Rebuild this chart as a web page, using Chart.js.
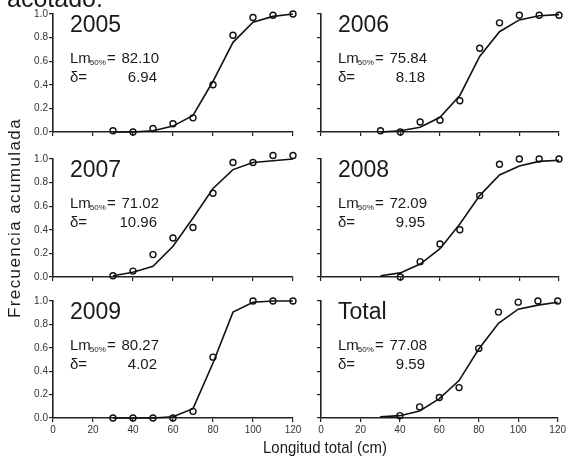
<!DOCTYPE html>
<html>
<head>
<meta charset="utf-8">
<script src="https://cdn.jsdelivr.net/npm/chart.js@4"></script>
<style>
  html, body { margin: 0; padding: 0; background: #fff; }
  #wrap { position: relative; width: 568px; height: 462px; overflow: hidden; background: #fff; }
  #wrap canvas { position: absolute; left: 0; top: 0; }
</style>
</head>
<body>
<div id="wrap"></div>
<script>
// Size classes (cm) and cumulative frequency per year
const lengths = [30, 40, 50, 60, 70, 80, 90, 100, 110, 120];
const xTicks = [0, 20, 40, 60, 80, 100, 120];
const yTicks = [0, 0.2, 0.4, 0.6, 0.8, 1.0];

const panelNames = ['2005', '2006', '2007', '2008', '2009', 'Total'];
const lm50 = [82.10, 75.84, 71.02, 72.09, 80.27, 77.08];
const deltas = [6.94, 8.18, 10.96, 9.95, 4.02, 9.59];

// observed cumulative frequency (null = no sample)
const obs2005 = [0.01, 0.00, 0.03, 0.07, 0.12, 0.40, 0.82, 0.97, 0.99, 1.00];
const obs2006 = [0.01, 0.00, 0.085, 0.10, 0.265, 0.71, 0.925, 0.99, 0.99, 0.99];
const obs2007 = [0.01, 0.05, 0.19, 0.33, 0.42, 0.71, 0.97, 0.97, 1.03, 1.03];
const obs2008 = [null, 0.00, 0.13, 0.28, 0.40, 0.69, 0.955, 1.00, 1.00, 1.00];
const obs2009 = [0.00, 0.00, 0.00, 0.00, 0.057, 0.52, null, 1.00, 1.00, 1.00];
const obsTotal = [null, 0.02, 0.095, 0.175, 0.26, 0.595, 0.905, 0.99, 1.00, 1.00];

// fitted maturity ogive
const fit2005 = [0.00, 0.00, 0.01, 0.05, 0.14, 0.43, 0.76, 0.93, 0.98, 1.00];
const fit2006 = [0.00, 0.01, 0.04, 0.125, 0.31, 0.64, 0.85, 0.95, 0.985, 0.995];
const fit2007 = [0.01, 0.04, 0.09, 0.26, 0.50, 0.75, 0.91, 0.97, 0.985, 1.00];
const fit2008 = [0.01, 0.035, 0.11, 0.24, 0.45, 0.69, 0.865, 0.94, 0.98, 0.99];
const fit2009 = [0.00, 0.00, 0.00, 0.01, 0.08, 0.47, 0.905, 0.99, 1.00, 1.00];
const fitTotal = [0.01, 0.02, 0.06, 0.165, 0.32, 0.59, 0.81, 0.93, 0.965, 0.99];

const observed = [obs2005, obs2006, obs2007, obs2008, obs2009, obsTotal];
const fitted = [fit2005, fit2006, fit2007, fit2008, fit2009, fitTotal];

// plot-area frames for the 3x2 grid
const W = 568, H = 462;
const cols = [{ l: 53, r: 293 }, { l: 321, r: 559 }];
const rows = [{ t: 14, b: 132 }, { t: 159, b: 277 }, { t: 301, b: 418 }];
const Y_AXIS_W = 30, X_AXIS_H = 22;
const FONT = '"Liberation Sans", Arial, sans-serif';
const INK = '#1a1a1a';

const panelText = {
  id: 'panelText',
  afterDatasetsDraw(chart, args, opts) {
    const { ctx, chartArea: a } = chart;
    const x0 = a.left + 17;
    ctx.save();
    ctx.fillStyle = INK;
    ctx.textBaseline = 'alphabetic';
    ctx.textAlign = 'left';
    ctx.font = '23px ' + FONT;
    ctx.fillText(opts.name, x0, a.top + 18);
    ctx.font = '15px ' + FONT;
    ctx.fillText('Lm', x0, a.top + 49);
    const wLm = ctx.measureText('Lm').width;
    ctx.font = '8px ' + FONT;
    ctx.fillText('50%', x0 + wLm - 1, a.top + 51);
    ctx.font = '15px ' + FONT;
    ctx.fillText('=', a.left + 54, a.top + 49);
    ctx.fillText('\u03B4=', x0, a.top + 68);
    ctx.textAlign = 'right';
    ctx.fillText(opts.lm.toFixed(2), a.left + 106, a.top + 49);
    ctx.fillText(opts.delta.toFixed(2), a.left + 104, a.top + 68);
    ctx.restore();
  }
};

// shared page text: axis titles and the caption line above the figure
const pageText = {
  id: 'pageText',
  afterDraw(chart) {
    const ctx = chart.ctx;
    ctx.save();
    ctx.fillStyle = INK;
    ctx.textBaseline = 'alphabetic';
    ctx.textAlign = 'left';
    ctx.font = '25px ' + FONT;
    ctx.fillText('acotado.', 7, 7);

    ctx.textAlign = 'center';
    ctx.save();
    ctx.translate(325, 453);
    ctx.scale(0.88, 1);
    ctx.font = '17px ' + FONT;
    ctx.fillText('Longitud total (cm)', 0, 0);
    ctx.restore();

    ctx.save();
    ctx.translate(20, 218);
    ctx.rotate(-Math.PI / 2);
    ctx.font = '17px ' + FONT;
    if ('letterSpacing' in ctx) ctx.letterSpacing = '1.4px';
    ctx.fillText('Frecuencia acumulada', 0, 0);
    ctx.restore();
    ctx.restore();
  }
};

const wrap = document.getElementById('wrap');

panelNames.forEach((name, i) => {
  const col = cols[i % 2];
  const row = rows[Math.floor(i / 2)];
  const leftCol = i % 2 === 0;
  const bottomRow = i >= 4;

  const canvas = document.createElement('canvas');
  canvas.width = W; canvas.height = H;
  canvas.style.width = W + 'px'; canvas.style.height = H + 'px';
  wrap.appendChild(canvas);

  const obsPts = lengths.map((x, k) => ({ x, y: observed[i][k] })).filter(p => p.y !== null);
  const fitPts = lengths.map((x, k) => ({ x, y: fitted[i][k] }));

  const axisCommon = {
    type: 'linear',
    grid: { drawOnChartArea: false, drawTicks: true, tickLength: 4, color: '#222', lineWidth: 1.2 },
    border: { display: true, color: '#222', width: 1.6 }
  };

  new Chart(canvas, {
    type: 'scatter',
    data: {
      datasets: [
        {
          type: 'scatter', data: obsPts,
          pointStyle: 'circle', pointRadius: 3, pointHoverRadius: 3,
          borderColor: '#111', borderWidth: 1.4, backgroundColor: 'rgba(0,0,0,0)',
          clip: false
        },
        {
          type: 'line', data: fitPts,
          borderColor: '#111', borderWidth: 1.6, pointRadius: 0, tension: 0,
          fill: false, clip: false
        }
      ]
    },
    options: {
      responsive: false,
      animation: false,
      devicePixelRatio: 1,
      events: [],
      layout: {
        padding: {
          left: col.l - Y_AXIS_W,
          right: W - col.r,
          top: row.t,
          bottom: H - row.b - X_AXIS_H
        }
      },
      plugins: {
        legend: { display: false },
        tooltip: { enabled: false },
        panelText: { name, lm: lm50[i], delta: deltas[i] }
      },
      scales: {
        x: Object.assign({}, axisCommon, {
          min: 0, max: 120,
          afterBuildTicks: s => { s.ticks = xTicks.map(v => ({ value: v })); },
          afterFit: s => { s.height = X_AXIS_H; },
          ticks: { display: bottomRow, padding: 2, maxRotation: 0, color: '#333', font: { family: FONT, size: 10 } }
        }),
        y: Object.assign({}, axisCommon, {
          min: 0, max: 1,
          afterBuildTicks: s => { s.ticks = yTicks.map(v => ({ value: v })); },
          afterFit: s => { s.width = Y_AXIS_W; },
          ticks: { display: leftCol, padding: 1, color: '#333', font: { family: FONT, size: 10 }, callback: v => v.toFixed(1) }
        })
      }
    },
    plugins: i === 0 ? [panelText, pageText] : [panelText]
  });
});
</script>
</body>
</html>
